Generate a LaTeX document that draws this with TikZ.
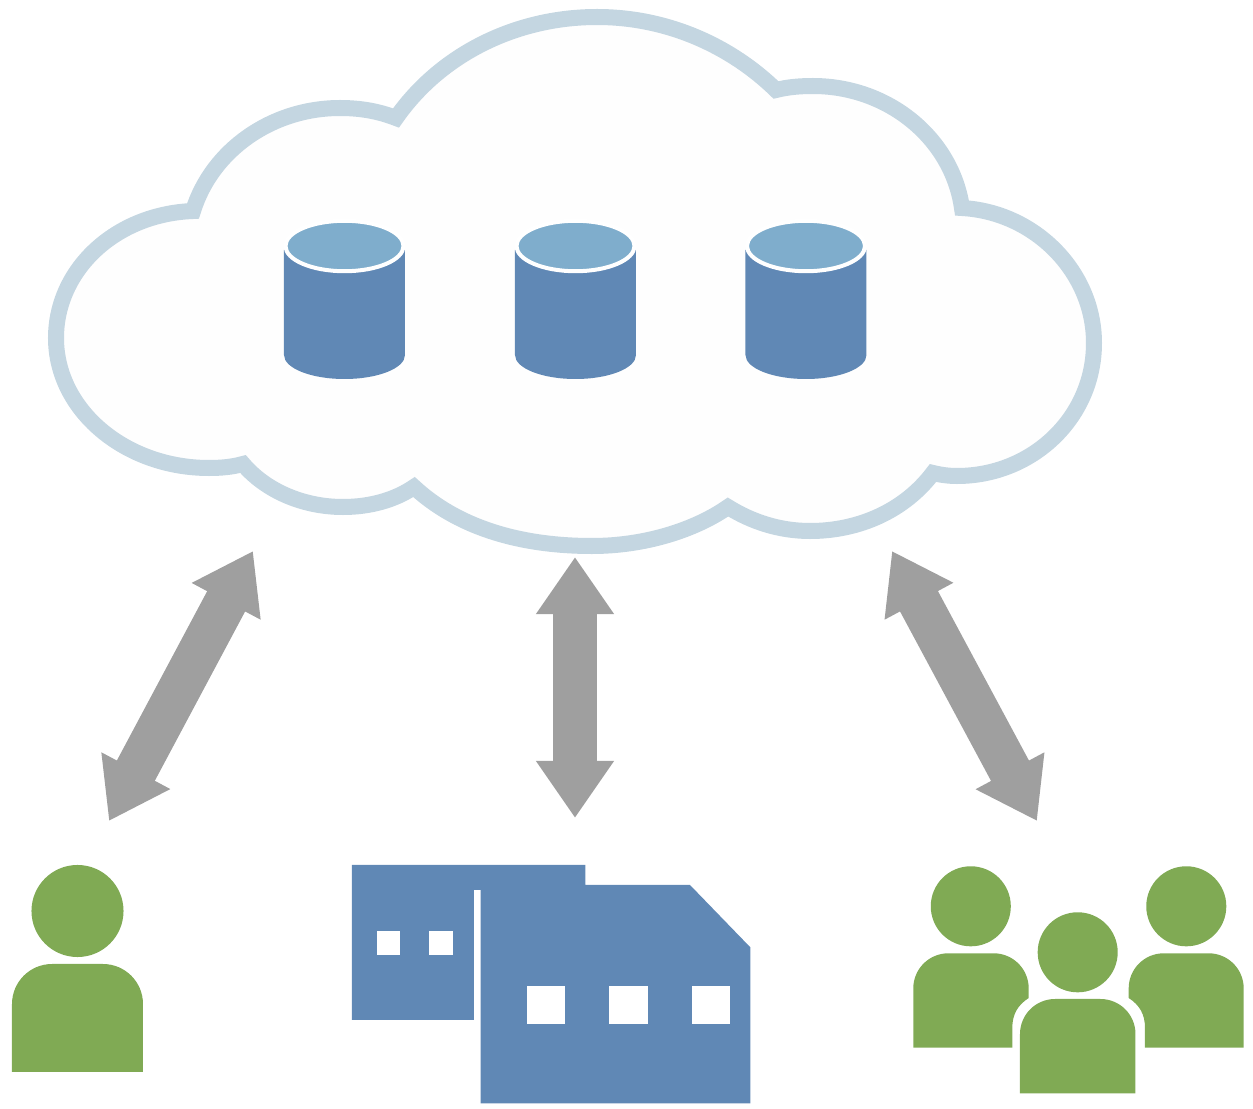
\documentclass[tikz,border=0pt]{standalone}
\usepackage{tikz}
\usetikzlibrary{arrows.meta,shapes.geometric}
\definecolor{cloud_line}{HTML}{C4D6E1}
\definecolor{cloud_fill}{HTML}{FEFEFE}
\definecolor{disk_blue}{HTML}{6088B5}
\definecolor{lid_blue}{HTML}{7FADCC}
\definecolor{arrow_grey}{HTML}{9F9F9F}
\definecolor{people_green}{HTML}{80AA54}
\begin{document}
\begin{tikzpicture}[x=0.01cm,y=-0.01cm,
    cloud_edge/.style={draw=cloud_line,fill=cloud_fill,line width=0.16cm,line join=miter,miter limit=10},
    disk_body/.style={fill=disk_blue},
    disk_lid/.style={ellipse,draw=white,fill=lid_blue,line width=0.4mm,minimum width=11.8mm,minimum height=5.04mm,inner sep=0pt},
    link_arrow/.style={arrow_grey,line width=4.3mm,{Triangle[length=5.7mm,width=7.4mm]}-{Triangle[length=5.7mm,width=7.4mm]}},
    big_head/.style={circle,fill=people_green,minimum size=9.2mm,inner sep=0pt},
    small_head/.style={circle,fill=people_green,minimum size=8mm,inner sep=0pt},
    people_body/.style={fill=people_green},
    plant_shape/.style={fill=disk_blue},
    small_window/.style={fill=white,minimum size=2.35mm,inner sep=0pt},
    big_window/.style={fill=white,minimum size=3.83mm,inner sep=0pt}]
  \useasboundingbox (0,0) rectangle (1253,1109);
  \draw[cloud_edge] (243,464) .. controls (232,467) and (221,468) .. (209,468)
    .. controls (125,468) and (56,410) .. (56,338)
    .. controls (56,270) and (115,214) .. (193,211)
    .. controls (212,150) and (272,108) .. (340,108)
    .. controls (360,108) and (378,111) .. (396,118)
    .. controls (440,55) and (515,17) .. (597,17)
    .. controls (670,17) and (733,48) .. (776,90)
    .. controls (788,87) and (800,86) .. (813,86)
    .. controls (888,86) and (952,138) .. (962,208)
    .. controls (1035,212) and (1094,272) .. (1094,343)
    .. controls (1094,418) and (1032,476) .. (957,476)
    .. controls (949,476) and (941,475) .. (933,473)
    .. controls (905,510) and (860,531) .. (810,531)
    .. controls (780,531) and (752,522) .. (728,507)
    .. controls (695,530) and (645,546) .. (592,546)
    .. controls (515,546) and (455,525) .. (414,487)
    .. controls (395,500) and (370,507) .. (343,507)
    .. controls (302,507) and (265,490) .. (243,464) -- cycle;
  \foreach \i/\cx in {1/344.5,2/575.5,3/806} {
    \fill[disk_body] (\cx-60.5,250) -- (\cx-60.5,355) arc[start angle=180,end angle=0,x radius=60.5,y radius=24] -- (\cx+60.5,250) -- cycle;
    \node[disk_lid] (lid\i) at (\cx,246) {};
  }
  \coordinate (left_top) at (253,551);
  \coordinate (left_bottom) at (109,821);
  \coordinate (mid_top) at (575,557);
  \coordinate (mid_bottom) at (575,818);
  \coordinate (right_top) at (892,551);
  \coordinate (right_bottom) at (1037,821);
  \draw[link_arrow] (left_top) -- (left_bottom);
  \draw[link_arrow] (mid_top) -- (mid_bottom);
  \draw[link_arrow] (right_top) -- (right_bottom);
  \node[big_head] (single_head) at (77.5,911) {};
  \fill[people_body] (12,1072) [rounded corners=0.4cm] -- (12,964) -- (143,964) [sharp corners] -- (143,1072) -- cycle;
  \fill[plant_shape] (352,865) -- (585.3,865) -- (585.3,885) -- (690,885) -- (750.3,947.3) -- (750.3,1103.3) -- (480.7,1103.3) -- (480.7,890) -- (474,890) -- (474,1020) -- (352,1020) -- cycle;
  \foreach \i/\wx in {1/388.7,2/441} {
    \node[small_window] (small_win\i) at (\wx,943) {};
  }
  \foreach \i/\wx in {1/546,2/628.5,3/711} {
    \node[big_window] (big_win\i) at (\wx,1005.2) {};
  }
  \node[small_head] (left_head) at (970.8,906.3) {};
  \node[small_head] (mid_head) at (1077.7,952.3) {};
  \node[small_head] (right_head) at (1186.3,906.3) {};
  \fill[people_body] (913.3,1047.7) [rounded corners=0.35cm] -- (913.3,953.3) -- (1028.7,953.3) [sharp corners] -- (1028.7,998) .. controls (1018,1005) and (1012.3,1014) .. (1012.3,1028) -- (1012.3,1047.7) -- cycle;
  \fill[people_body] (1020,1093.3) [rounded corners=0.35cm] -- (1020,999) -- (1135.5,999) [sharp corners] -- (1135.5,1093.3) -- cycle;
  \fill[people_body] (1243.7,1047.7) [rounded corners=0.35cm] -- (1243.7,953.3) -- (1128.7,953.3) [sharp corners] -- (1128.7,998) .. controls (1139.4,1005) and (1145,1014) .. (1145,1028) -- (1145,1047.7) -- cycle;
\end{tikzpicture}
\end{document}
